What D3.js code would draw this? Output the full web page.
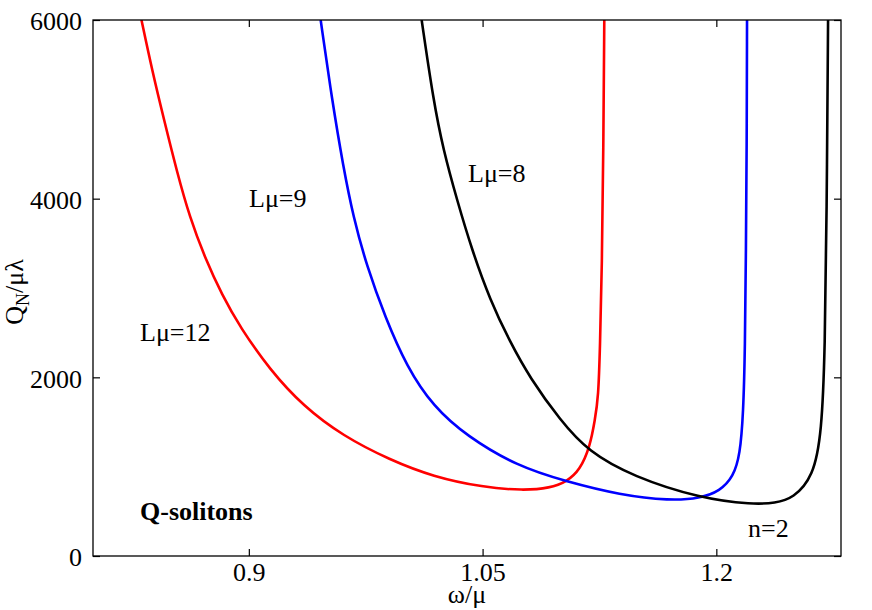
<!DOCTYPE html>
<html>
<head>
<meta charset="utf-8">
<script src="https://cdn.jsdelivr.net/npm/d3@7"></script>
<style>
  html, body { margin: 0; padding: 0; background: #fff; }
  svg { display: block; }
</style>
</head>
<body>
<svg id="chart" width="872" height="610"></svg>
<script>
// ---- data ----
const omegaL12 = [0.8311,0.8379,0.8456,0.8539,0.8622,0.8719,0.8828,0.8943,0.9136,0.9348,0.9604,0.9906,1.0182,1.0503,1.0761,1.0933,1.1040,1.1125,1.1189,1.1221,1.1243,1.1253,1.1266,1.1275,1.1281];
const qL12     = [6000,5440,4881,4299,3784,3336,2922,2563,2082,1679,1343,1075,888,769,733,761,832,963,1224,1522,1783,2306,3238,4545,6000];

const omegaL9 = [0.9461,0.9534,0.9606,0.9670,0.9758,0.9874,1.0013,1.0184,1.0398,1.0719,1.1040,1.1382,1.1703,1.1895,1.2024,1.2109,1.2152,1.2173,1.2184,1.2190,1.2195,1.2197];
const qL9     = [6000,5104,4358,3798,3238,2679,2119,1671,1343,1007,832,683,619,646,728,888,1131,1597,2306,3425,4545,6000];

const omegaL8 = [1.0109,1.0184,1.0248,1.0336,1.0432,1.0548,1.0676,1.0804,1.0997,1.1178,1.1467,1.1895,1.2237,1.2377,1.2494,1.2622,1.2676,1.2697,1.2708,1.2717];
const qL8     = [6000,5104,4545,3985,3425,2866,2396,1993,1522,1168,888,646,576,593,646,888,1374,2306,3798,6000];

const seriesNames  = ["Lμ=12", "Lμ=9", "Lμ=8"];
const seriesColors = ["#ff0000", "#0000ff", "#000000"];

const xTickValues = [0.9, 1.05, 1.2];
const xTickLabels = ["0.9", "1.05", "1.2"];
const yTickValues = [0, 2000, 4000, 6000];
const yTickLabels = ["0", "2000", "4000", "6000"];

// ---- layout ----
const svg = d3.select("#chart");
const L = 93, R = 841, T = 20, B = 556;
const x = d3.scaleLinear().domain([0.8, 1.28]).range([L, R]);
const y = d3.scaleLinear().domain([0, 6000]).range([B, T]);
const FS = 26;

svg.append("defs").append("clipPath").attr("id", "clip")
  .append("rect").attr("x", L).attr("y", T).attr("width", R - L).attr("height", B - T);

// curves
const series = [
  { om: omegaL12, q: qL12 },
  { om: omegaL9,  q: qL9 },
  { om: omegaL8,  q: qL8 }
];
const line = d3.line().x(d => x(d[0])).y(d => y(d[1])).curve(d3.curveBasis);
const gCurves = svg.append("g").attr("clip-path", "url(#clip)");
series.forEach((s, i) => {
  gCurves.append("path")
    .datum(s.om.map((o, k) => [o, s.q[k]]))
    .attr("d", line)
    .attr("fill", "none")
    .attr("stroke", seriesColors[i])
    .attr("stroke-width", 2.6)
    .attr("stroke-linejoin", "round");
});

// axes (inward ticks)
const xFmt = d => xTickLabels[xTickValues.indexOf(d)];
const yFmt = d => yTickLabels[yTickValues.indexOf(d)];

const gx = svg.append("g").attr("transform", `translate(0,${B})`)
  .call(d3.axisBottom(x).tickValues(xTickValues).tickFormat(xFmt).tickSizeInner(-7).tickSizeOuter(0).tickPadding(7));
const gxTop = svg.append("g").attr("transform", `translate(0,${T})`)
  .call(d3.axisTop(x).tickValues(xTickValues).tickFormat("").tickSizeInner(-7).tickSizeOuter(0));
const gy = svg.append("g").attr("transform", `translate(${L},0)`)
  .call(d3.axisLeft(y).tickValues(yTickValues).tickFormat(yFmt).tickSizeInner(-7).tickSizeOuter(0).tickPadding(11));
const gyR = svg.append("g").attr("transform", `translate(${R},0)`)
  .call(d3.axisRight(y).tickValues(yTickValues).tickFormat("").tickSizeInner(-7).tickSizeOuter(0));

[gx, gxTop, gy, gyR].forEach(g => {
  g.select(".domain").remove();
  g.selectAll(".tick line").attr("stroke", "#000").attr("stroke-width", 1.2);
  g.selectAll("text").attr("font-size", FS).attr("fill", "#000");
});
gy.selectAll("text").attr("dy", "0.38em");

// frame
svg.append("rect").attr("x", L).attr("y", T).attr("width", R - L).attr("height", B - T)
  .attr("fill", "none").attr("stroke", "#000").attr("stroke-width", 1.3);

// axis titles
svg.append("text").attr("x", (L + R) / 2).attr("y", 603).attr("text-anchor", "middle")
  .attr("font-size", FS).text("ω/μ");

const yl = svg.append("text")
  .attr("transform", `translate(23,292) rotate(-90)`)
  .attr("text-anchor", "middle").attr("font-size", FS);
yl.append("tspan").text("Q");
yl.append("tspan").attr("font-size", 18).attr("dy", 6).text("N");
yl.append("tspan").attr("dy", -6).text("/μλ");

// annotations
const annX = [140, 249, 468];
const annY = [341, 207, 182];
seriesNames.forEach((n, i) => {
  svg.append("text").attr("x", annX[i]).attr("y", annY[i]).attr("font-size", FS).text(n);
});
svg.append("text").attr("x", 748).attr("y", 537).attr("font-size", FS).text("n=2");
svg.append("text").attr("x", 140).attr("y", 520).attr("font-size", FS).attr("font-weight", "bold").text("Q-solitons");

svg.selectAll("text").style("font-family", '"Liberation Serif"').style("fill", "#000");
</script>
</body>
</html>
